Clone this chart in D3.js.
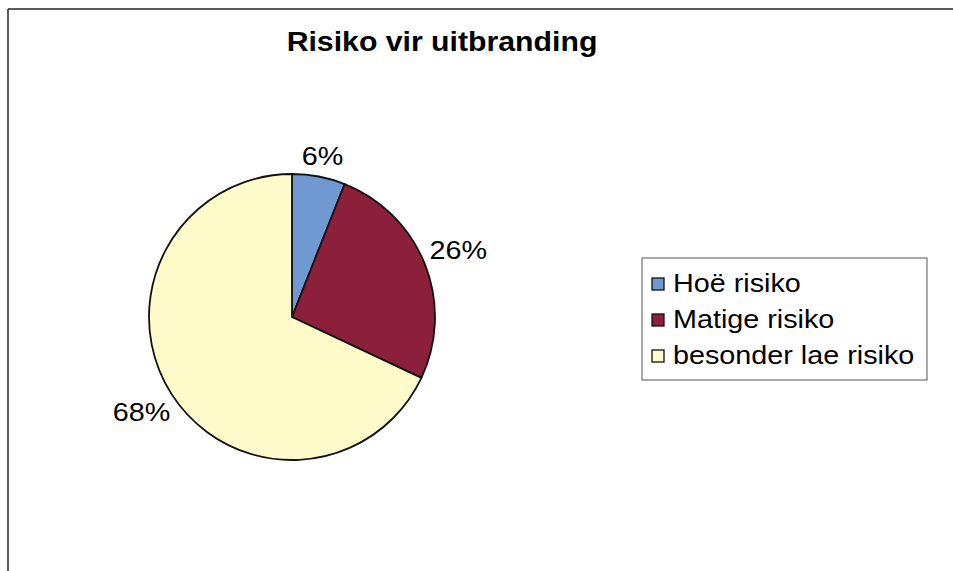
<!DOCTYPE html>
<html>
<head>
<meta charset="utf-8">
<script src="https://cdn.jsdelivr.net/npm/d3@7"></script>
<style>
  body { margin: 0; background: #fff; }
  svg { display: block; font-family: Arial, "Liberation Sans", sans-serif; }
</style>
</head>
<body>
<svg id="container"></svg>
<script>
const width = 953;
const height = 571;

const title = "Risiko vir uitbranding";
const categories = ["Hoë risiko", "Matige risiko", "besonder lae risiko"];
const values = [6, 26, 68];
const colors = ["#7199d1", "#8c1f3a", "#fffbcb"];

const cx = 292, cy = 317, radius = 143;
const stretch = 1.15; // text in the picture is a bit wider than plain Arial

const svg = d3.select("#container")
    .attr("width", width)
    .attr("height", height)
    .attr("viewBox", [0, 0, width, height]);

// frame (only top and left edges show in the picture)
svg.append("line")
    .attr("x1", 8).attr("x2", width).attr("y1", 9).attr("y2", 9)
    .attr("stroke", "#222").attr("stroke-width", 1.5);
svg.append("line")
    .attr("x1", 8).attr("x2", 8).attr("y1", 9).attr("y2", height)
    .attr("stroke", "#222").attr("stroke-width", 1.5);

svg.append("text")
    .attr("transform", `translate(442,51) scale(1.12,1)`)
    .attr("text-anchor", "middle")
    .attr("font-weight", "bold")
    .attr("font-size", 27)
    .text(title);

const data = categories.map((c, i) => ({name: c, value: values[i], color: colors[i]}));

const pie = d3.pie().sort(null).value(d => d.value);
const arc = d3.arc().innerRadius(0).outerRadius(radius);
const arcs = pie(data);

const g = svg.append("g").attr("transform", `translate(${cx},${cy})`);

g.selectAll("path")
  .data(arcs)
  .join("path")
    .attr("d", arc)
    .attr("fill", d => d.data.color)
    .attr("stroke", "#111")
    .attr("stroke-width", 1.8)
    .attr("stroke-linejoin", "round");

const fmt = d => Math.round(d.data.value) + "%";
const labelSize = 25;
const gap = 5;

g.selectAll("text.lbl")
  .data(arcs)
  .join("text")
    .attr("class", "lbl")
    .attr("font-size", labelSize)
    .attr("text-anchor", "middle")
    .attr("dominant-baseline", "central")
    .text(fmt)
    .each(function(d) {
      const a = (d.startAngle + d.endAngle) / 2;
      const w = this.getComputedTextLength() * stretch;
      const h = labelSize * 0.9;
      const s = Math.sin(a), c = -Math.cos(a);
      const dist = radius + gap + Math.abs(s) * w / 2 + Math.abs(c) * h / 2;
      d3.select(this)
        .attr("transform", `translate(${s * dist},${c * dist}) scale(${stretch},1)`);
    });

// legend
const lx = 642, ly = 258, lw = 285, lh = 122;
const legend = svg.append("g");
legend.append("rect")
    .attr("x", lx).attr("y", ly).attr("width", lw).attr("height", lh)
    .attr("fill", "#fff").attr("stroke", "#555").attr("stroke-width", 1);

const rowY = d3.scalePoint().domain(categories).range([284, 356]);

const item = legend.selectAll("g.item")
  .data(data)
  .join("g")
    .attr("class", "item")
    .attr("transform", d => `translate(652,${rowY(d.name)})`);

item.append("rect")
    .attr("x", 0).attr("y", -6).attr("width", 12).attr("height", 12)
    .attr("fill", d => d.color)
    .attr("stroke", "#111").attr("stroke-width", 1.3);

item.append("text")
    .attr("transform", `translate(21,0) scale(${stretch},1)`)
    .attr("dominant-baseline", "central")
    .attr("font-size", 25)
    .text(d => d.name);
</script>
</body>
</html>
